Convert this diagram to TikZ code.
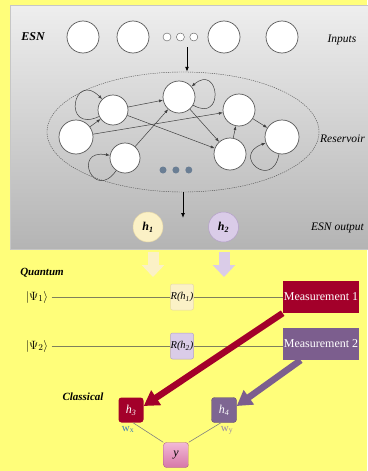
\documentclass[tikz,border=0pt]{standalone}
\usepackage{fontspec}
\setmainfont{Liberation Serif}
\usetikzlibrary{arrows.meta,positioning,shapes.geometric}

\definecolor{bgyellow}{RGB}{255,254,122}
\definecolor{panelTop}{RGB}{238,238,238}
\definecolor{panelBot}{RGB}{180,180,180}
\definecolor{measred}{RGB}{163,0,42}
\definecolor{measpurple}{RGB}{124,94,142}
\definecolor{hfouR}{RGB}{126,102,146}
\definecolor{creamfill}{RGB}{251,241,198}
\definecolor{creamline}{RGB}{230,216,168}
\definecolor{lilacfill}{RGB}{218,204,232}
\definecolor{lilacline}{RGB}{180,160,200}
\definecolor{wirecol}{RGB}{128,128,92}
\definecolor{dotcol}{RGB}{106,126,148}
\definecolor{pinkTop}{RGB}{242,184,214}
\definecolor{pinkBot}{RGB}{214,120,168}
\definecolor{wxblue}{RGB}{60,127,181}
\definecolor{wygray}{RGB}{150,136,166}

\begin{document}
\begin{tikzpicture}[x=1pt,y=1pt,
font=\fontsize{11}{13}\selectfont,
inp/.style={circle,draw=black!65,fill=white,line width=0.7pt,minimum size=32pt,inner sep=0pt},
smalldot/.style={circle,draw=black!65,fill=white,minimum size=8pt,inner sep=0pt},
bluedot/.style={circle,fill=dotcol,minimum size=7pt,inner sep=0pt},
neuron/.style={circle,draw=black!65,fill=white,line width=0.7pt,inner sep=0pt},
arr/.style={-{Latex[length=4pt,width=3pt]},draw=black!75,line width=0.5pt},
flow/.style={-{Latex[length=5pt,width=4pt]},line width=0.9pt},
lbl/.style={font=\fontsize{11.5}{14}\selectfont\itshape},
hd/.style={font=\fontsize{11}{13}\selectfont\bfseries\itshape},
hnode/.style={circle,minimum size=30pt,inner sep=0pt,line width=0.5pt,font=\fontsize{12}{14}\selectfont\bfseries\itshape},
gate/.style={rounded corners=2pt,minimum width=23pt,minimum height=26pt,inner sep=0pt,line width=0.5pt,font=\fontsize{10.5}{12}\selectfont\itshape},
meas/.style={minimum width=76pt,minimum height=32pt,inner sep=1pt,text=white,font=\fontsize{12}{14}\selectfont},
cbox/.style={rounded corners=3pt,minimum size=25pt,inner sep=0pt,font=\fontsize{12}{14}\selectfont\itshape},
wire/.style={draw=wirecol,line width=0.6pt},
big/.style={line width=11pt,-{Triangle[width=22pt,length=12pt]}},
thickarr/.style={line width=6.5pt,-{Triangle[width=17pt,length=15pt]}},
link/.style={draw=gray,line width=0.6pt}]

\useasboundingbox (0,0) rectangle (367,-471);
\fill[bgyellow] (0,0) rectangle (367,-471);
% ESN panel
\shade[top color=panelTop,bottom color=panelBot,draw=gray!45] (10,-5) rectangle (368,-249);

% inputs
\node[hd,font=\fontsize{12}{14}\selectfont\bfseries\itshape] (esn) at (33,-37) {ESN};
\node[inp] (in1) at (83,-37) {};
\node[inp] (in2) at (133,-37) {};
\node[smalldot] (d1) at (167,-37) {};
\node[smalldot,right=5pt of d1] (d2) {};
\node[smalldot,right=5pt of d2] (d3) {};
\node[inp] (in3) at (224,-37) {};
\node[inp] (in4) at (282,-37) {};
\node[lbl,anchor=west] (inputs) at (324,-40) {Inputs};

% reservoir
\node[ellipse,draw=black!70,dash pattern=on 1.2pt off 1pt,minimum width=272pt,minimum height=120pt] (res) at (183,-132) {};
\node[lbl,anchor=west,inner sep=1pt] (reslbl) at (319,-139) {Reservoir};
\node[neuron,minimum size=30pt] (na) at (113,-110) {};
\node[neuron,minimum size=34pt] (nb) at (76,-137) {};
\node[neuron,minimum size=30pt] (nc) at (125,-158) {};
\node[neuron,minimum size=32pt] (nd) at (179,-97) {};
\node[neuron,minimum size=32pt] (ne) at (239,-110) {};
\node[neuron,minimum size=32pt] (nf) at (230,-154) {};
\node[neuron,minimum size=34pt] (ng) at (282,-137) {};
\node[bluedot] (r1) at (163,-170) {};
\node[bluedot,right=5.5pt of r1] (r2) {};
\node[bluedot,right=5.5pt of r2] (r3) {};

\draw[arr] (nb) -- (na);
\draw[arr] (na) -- (nd);
\draw[arr] (nb) -- (ne);
\draw[arr] (na) -- (nf);
\draw[arr] (nc) -- (nd);
\draw[arr] (nd) -- (nf);
\draw[arr] (nf) -- (ne);
\draw[arr] (ne) -- (ng);
\draw[arr] (na) to[out=205,in=135,looseness=6] (na);
\draw[arr] (nd) to[out=-30,in=40,looseness=5] (nd);
\draw[arr] (nc) to[out=235,in=170,looseness=6] (nc);
\draw[arr] (ng) to[out=260,in=200,looseness=5.5] (ng);

\coordinate (intail) at (187,-47);
\draw[flow] (intail) -- (intail |- res.north);
\coordinate (outtip) at (183,-218);
\draw[flow] (res.south) -- (outtip);

% ESN output
\node[hnode,fill=creamfill,draw=creamline] (h1) at (148,-227) {h\textsubscript{1}};
\node[hnode,fill=lilacfill,draw=lilacline,right=45pt of h1] (h2) {h\textsubscript{2}};
\node[lbl,anchor=west,inner sep=1pt] (esnout) at (310,-228) {ESN output};

% quantum part
\coordinate (a1top) at (153,-252);
\coordinate (a1tip) at (153,-277);
\coordinate (a2top) at (224,-252);
\coordinate (a2tip) at (224,-277);
\draw[big,draw=creamfill] (a1top) -- (a1tip);
\draw[big,draw=lilacfill] (a2top) -- (a2tip);

\node[hd] (quantum) at (42,-273) {Quantum};
\node[font=\fontsize{12.5}{14}\selectfont] (psi1) at (37,-297) {$|\Psi_1\rangle$};
\node[font=\fontsize{12.5}{14}\selectfont] (psi2) at (37,-346) {$|\Psi_2\rangle$};
\node[gate,fill=creamfill,draw=creamline] (g1) at (182,-297) {R(h\textsubscript{1})};
\node[gate,fill=lilacfill,draw=lilacline] (g2) at (182,-346) {R(h\textsubscript{2})};
\node[meas,fill=measred] (m1) at (321,-297) {Measurement 1};
\node[meas,fill=measpurple] (m2) at (321,-344) {Measurement 2};
\draw[wire] (psi1) -- (g1);
\draw[wire] (g1) -- (m1);
\draw[wire] (psi2) -- (g2);
\draw[wire] (g2) -- (g2 -| m2.west);

% classical part
\node[hd] (classical) at (83,-397) {Classical};
\node[cbox,fill=measred,text=white] (h3) at (131,-410) {h\textsubscript{3}};
\node[cbox,fill=hfouR,draw=measpurple!80!black,text=white] (h4) at (224,-410) {h\textsubscript{4}};
\node[cbox,top color=pinkTop,bottom color=pinkBot,draw=pinkBot!80!black] (yout) at (176,-455) {y};
\node[below=0pt of h3,xshift=-3pt,text=wxblue] (wx) {w\textsubscript{x}};
\node[below=0pt of h4,xshift=3pt,text=wygray] (wy) {w\textsubscript{y}};
\draw[link] ([xshift=2pt]h3.south) -- (yout.north west);
\draw[link] ([xshift=-3pt]h4.south) -- (yout.north east);

\draw[thickarr,draw=measred] (m1.south west) -- ([yshift=4pt]h3.east);
\draw[thickarr,draw=measpurple] ([xshift=18pt]m2.south west) -- ([yshift=4pt]h4.east);
\end{tikzpicture}
\end{document}
